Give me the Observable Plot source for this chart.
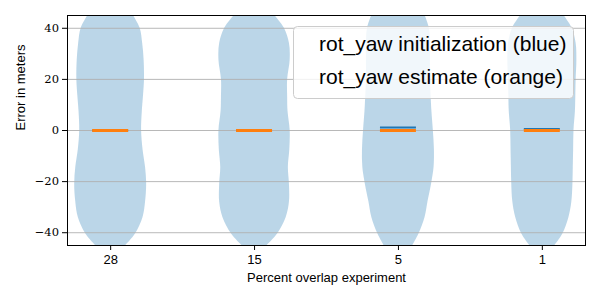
<!DOCTYPE html>
<html><head><meta charset="utf-8">
<script src="https://cdn.jsdelivr.net/npm/d3@7"></script>
<script src="https://cdn.jsdelivr.net/npm/@observablehq/plot@0.6"></script>
<style>
body{margin:0;background:#fff;}
</style>
</head><body>
<div id="chart"></div>
<script>
// ---- data ----
const categories = ["28", "15", "5", "1"];
const yLevels = [45, 40, 34, 27.5, 20, 13, 7.5, 0, -7.5, -14.5, -21, -28, -34, -40.5, -45];
// relative violin density (1 = widest) at each y level, per category
const density28 = [0.63, 0.82, 0.89, 0.93, 0.94, 0.91, 0.88, 0.86, 0.90, 0.97, 1.00, 0.97, 0.90, 0.69, 0.42];
const density15 = [0.56, 0.83, 0.97, 0.99, 0.92, 0.92, 0.93, 0.99, 0.98, 0.94, 0.97, 0.97, 0.88, 0.64, 0.35];
const density5  = [0.74, 0.86, 0.89, 0.89, 0.89, 0.91, 0.93, 0.97, 1.00, 0.99, 0.92, 0.82, 0.74, 0.57, 0.40];
const density1  = [0.60, 0.83, 0.94, 0.96, 0.94, 0.93, 0.92, 0.88, 0.87, 0.86, 0.85, 0.82, 0.74, 0.57, 0.35];
const medianInit = [0, 0, 1.2, 0.6];      // rot_yaw initialization (blue)
const medianEstimate = [0, 0, 0, 0];      // rot_yaw estimate (orange)
const yTicks = [-40, -20, 0, 20, 40];
const legendLabels = ["rot_yaw initialization (blue)", "rot_yaw estimate (orange)"];
const xLabel = "Percent overlap experiment";
const yLabel = "Error in meters";

// ---- build tables ----
const densities = [density28, density15, density5, density1];
const violinData = [];
densities.forEach((arr, i) => arr.forEach((d, j) => violinData.push({pos: i + 1, y: yLevels[j], d})));
const halfMax = 0.25;
const medHalf = 0.125;
const initData = medianInit.map((v, i) => ({pos: i + 1, y: v}));
const estData = medianEstimate.map((v, i) => ({pos: i + 1, y: v}));

const sans = "'Liberation Sans', Arial, sans-serif";
const serif = "'DejaVu Serif', serif";

const svg = Plot.plot({
  width: 600,
  height: 300,
  marginLeft: 67,
  marginRight: 15,
  marginTop: 15,
  marginBottom: 55,
  style: {background: "#fff", fontFamily: sans, fontSize: "13px", color: "#000"},
  x: {domain: [0.7, 4.3], axis: null},
  y: {domain: [-45, 45], axis: null},
  marks: [
    Plot.areaX(violinData, {
      y: "y",
      x1: d => d.pos - d.d * halfMax,
      x2: d => d.pos + d.d * halfMax,
      z: "pos",
      fill: "#1f77b4",
      fillOpacity: 0.3,
      curve: "catmull-rom",
      clip: true
    }),
    Plot.gridY(yTicks, {stroke: "#b0b0b0", strokeOpacity: 1, strokeWidth: 0.9}),
    Plot.ruleY(initData, {y: "y", x1: d => d.pos - medHalf, x2: d => d.pos + medHalf, stroke: "#1f77b4", strokeWidth: 2}),
    Plot.ruleY(estData, {y: "y", x1: d => d.pos - medHalf, x2: d => d.pos + medHalf, stroke: "#ff7f0e", strokeWidth: 3}),
    Plot.axisY(yTicks, {
      tickSize: 5, tickPadding: 3.5, stroke: "#000",
      tickFormat: d => d < 0 ? "\u2212" + (-d) : String(d),
      fontFamily: serif, fontSize: 11.5, label: null
    }),
    Plot.axisX([1, 2, 3, 4], {
      tickSize: 5, tickPadding: 4, stroke: "#000",
      tickFormat: d => categories[d - 1],
      fontFamily: sans, fontSize: 13, label: null
    }),
    Plot.text([yLabel], {frameAnchor: "left", dx: -47, rotate: -90, fontFamily: sans, fontSize: 13, fill: "#000"}),
    Plot.text([xLabel], {frameAnchor: "bottom", dy: 36, fontFamily: sans, fontSize: 13, fill: "#000"}),
    Plot.frame({stroke: "#000", strokeWidth: 1})
  ]
});

// legend box inside the axes (top right)
const g = d3.select(svg).append("g").attr("class", "legend").attr("text-anchor", "start");
g.append("rect")
  .attr("x", 293.5).attr("y", 26.5).attr("width", 280).attr("height", 72)
  .attr("rx", 4).attr("fill", "#fff").attr("fill-opacity", 0.8)
  .attr("stroke", "#cccccc").attr("stroke-width", 1);
legendLabels.forEach((t, i) => {
  g.append("text")
    .attr("x", 319).attr("y", 51 + i * 33)
    .attr("text-anchor", "start")
    .attr("font-family", sans).attr("font-size", 21)
    .attr("fill", "#000")
    .text(t);
});

document.getElementById("chart").appendChild(svg);
</script>
</body></html>
